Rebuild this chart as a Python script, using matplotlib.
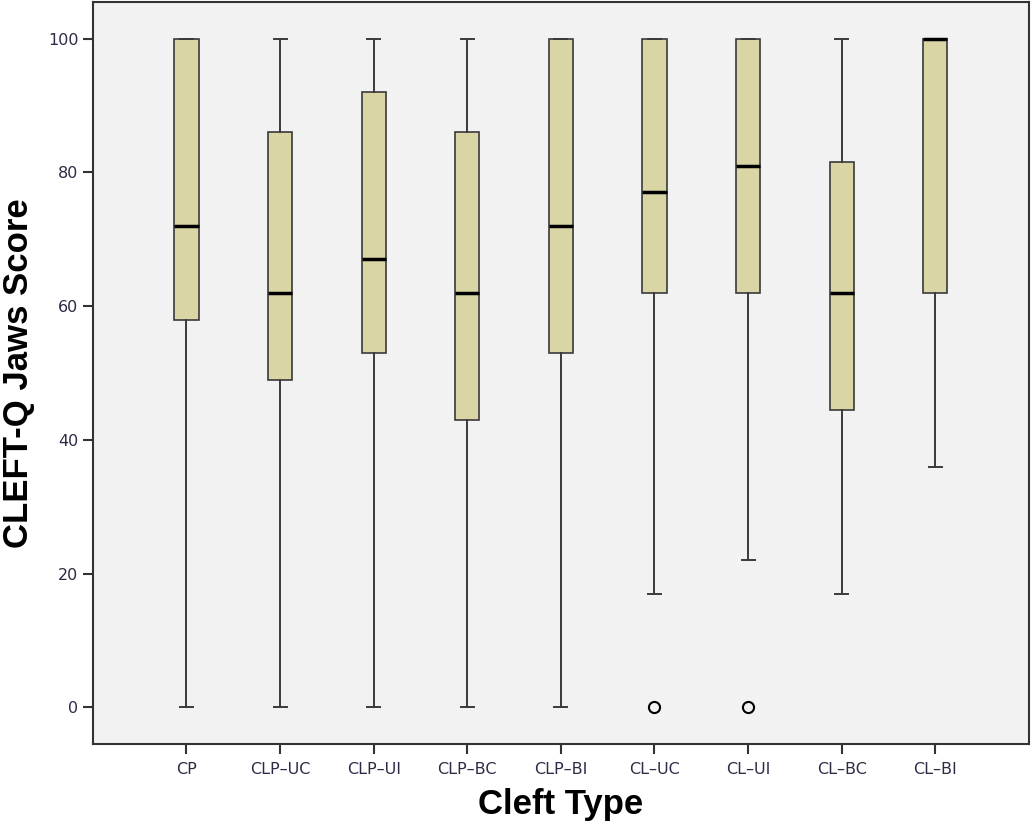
import matplotlib
matplotlib.use("Agg")
import matplotlib.pyplot as plt

categories = ["CP", "CLP\u2013UC", "CLP\u2013UI", "CLP\u2013BC", "CLP\u2013BI",
              "CL\u2013UC", "CL\u2013UI", "CL\u2013BC", "CL\u2013BI"]
whislo = [0, 0, 0, 0, 0, 17, 22, 17, 36]
q1 = [58, 49, 53, 43, 53, 62, 62, 44.5, 62]
med = [72, 62, 67, 62, 72, 77, 81, 62, 100]
q3 = [100, 86, 92, 86, 100, 100, 100, 81.5, 100]
whishi = [100, 100, 100, 100, 100, 100, 100, 100, 100]
outliers = [[], [], [], [], [], [0], [0], [], []]
yticks = [0, 20, 40, 60, 80, 100]

stats = []
for i, c in enumerate(categories):
    stats.append(dict(label=c, whislo=whislo[i], q1=q1[i], med=med[i],
                      q3=q3[i], whishi=whishi[i], fliers=outliers[i]))

plt.rcParams['font.family'] = ['Liberation Sans', 'DejaVu Sans']

fig = plt.figure(figsize=(10.32, 8.26), dpi=100)
ax = fig.add_axes([0.090, 0.0993, 0.907, 0.8983])
ax.set_facecolor('#f2f2f2')

ax.bxp(stats, positions=range(1, len(categories) + 1), widths=0.26,
       patch_artist=True, showfliers=True,
       boxprops=dict(facecolor='#dad5a5', edgecolor='#3a3a3a', linewidth=1.2),
       medianprops=dict(color='black', linewidth=2.5),
       whiskerprops=dict(color='#3a3a3a', linewidth=1.4),
       capprops=dict(color='#3a3a3a', linewidth=1.4),
       capwidths=0.14,
       flierprops=dict(marker='o', markerfacecolor='none', markeredgecolor='black',
                       markersize=8, markeredgewidth=1.5))

ax.set_xlim(0, 10)
ax.set_ylim(-5.5, 105.5)
ax.set_yticks(yticks)
ax.set_xticks(range(1, len(categories) + 1))
ax.set_xticklabels(categories)

for s in ax.spines.values():
    s.set_color('#333333')
    s.set_linewidth(1.5)

ax.tick_params(axis='both', length=7, width=1.5, color='#333333',
               labelsize=11.5, labelcolor='#2b2b45')
ax.tick_params(axis='x', pad=6)
for lab in ax.get_xticklabels() + ax.get_yticklabels():
    lab.set_family('DejaVu Sans')

ax.set_xlabel('Cleft Type', fontsize=25, fontweight='bold', labelpad=8)
ax.set_ylabel('CLEFT-Q Jaws Score', fontsize=25, fontweight='bold', labelpad=9)

fig.savefig('out.png', dpi=100)
